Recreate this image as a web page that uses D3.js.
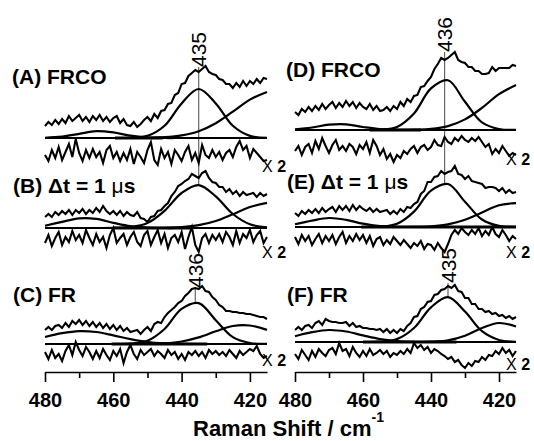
<!DOCTYPE html>
<html><head><meta charset="utf-8">
<script src="https://cdn.jsdelivr.net/npm/d3@7"></script>
<style>
html,body{margin:0;padding:0;background:#fff;}
svg{display:block;font-family:"Liberation Sans",Arial,Helvetica,sans-serif;}
</style></head><body>
<svg id="chart" width="534" height="441"></svg>
<script>
// ---------------- DATA ----------------
// x grids (Raman shift, cm-1)
const ramanShift = d3.range(480, 414, -1);                 // measured spectra & residuals, 480..415
const fitShift = [480,475,470,465,460,455,450,445,440,435,430,425,420,415]; // fitted components
const xTicksMajor = [480, 460, 440, 420];
const xTicksMinor = [470, 450, 430];
const xTitle = "Raman Shift / cm";
const xTitleSup = "-1";
const panelLabels = ["(A) FRCO", "(B) \u0394t = 1 \u03bcs", "(C) FR", "(D) FRCO", "(E) \u0394t = 1 \u03bcs", "(F) FR"];
const residualLabel = ["X", "2"];

// vertical stacking offsets (intensity units) of each spectrum and its residual
const stackOffsets    = [234, 144, 28, 242, 145, 30];
const residualOffsets = [217, 132, 17, 222, 132, 17];

// measured spectra (relative to fit baseline), 480 -> 415 cm-1
const dataA = [12,16,13,18,14,19,15,22,17,20, 23,17,21,16,22,18,23,17,21,16, 20,22,15,19,13,12,16,11,14,18, 21,17,24,20,27,28,34,35,43,45, 54,55,62,65,68,66,69,72,66,64, 63,59,58,54,54,50,55,51,57,52, 57,54,59,55,60,59];
const dataB = [11,14,11,16,13,17,14,18,13,18, 15,19,14,18,15,20,16,22,17,14, 17,13,17,12,16,13,12,16,10,9, 6,11,12,17,18,22,25,32,36,42, 44,47,49,54,52,50,55,57,50,46, 45,41,41,36,39,34,37,32,36,33, 34,35,31,35,32,34];
const dataC = [14,17,14,18,19,16,21,17,23,20, 24,19,23,18,22,17,21,16,20,15, 19,14,18,13,16,12,13,14,10,14, 17,13,20,22,21,27,31,34,37,41, 43,48,51,55,56,55,58,53,52,47, 44,39,37,33,33,32,32,31,31,30, 30,29,28,27,27,25];
const dataD = [18,15,21,18,23,19,24,20,26,21, 25,28,22,27,23,29,24,28,22,27, 23,21,26,20,24,19,20,23,19,24, 21,28,24,31,28,34,35,43,44,49, 53,61,66,72,70,72,75,78,70,68, 67,63,63,59,59,56,56,57,63,59, 62,62,62,62,65,64];
const dataE = [14,11,16,13,17,14,18,14,19,15, 18,20,15,21,17,21,16,22,17,21, 18,16,19,15,18,15,16,17,13,16, 13,18,15,20,19,23,25,33,36,45, 45,50,51,56,53,55,56,61,53,52, 48,51,46,45,44,43,39,40,40,39, 36,39,34,37,34,35];
const dataF = [12,15,12,16,17,14,19,21,17,23, 21,20,20,19,19,20,16,19,15,16, 14,14,13,13,12,13,10,13,9,12, 9,13,11,16,19,25,26,33,35,40, 41,47,48,52,53,56,54,57,51,50, 44,44,38,38,33,33,30,31,28,29, 26,27,24,26,23,25];

// fitted band components (main ~435, high-frequency side, low-frequency side), at fitShift
const fitMainA  = [0,0,0,0,0,0.2,2.1,12.2,34.6,49,34.6,12.2,2.1,0.2];
const fitRightA = [0,0,0,0,0,0,0.2,0.8,2.6,6.8,14.8,26.3,38.4,46.0];
const fitLeftA  = [0.2,1.3,4.2,6.9,5.6,2.3,0.5,0,0,0,0,0,0,0];
const fitMainB  = [0,0,0,0,0.1,0.9,5.0,17.2,35.0,42.9,31.6,14.0,3.7,0.6];
const fitRightB = [0,0,0,0,0,0,0,0.2,0.9,2.8,7.0,13.8,21.0,25.1];
const fitLeftB  = [2.3,6.1,9.6,9.1,5.2,1.8,0.4,0,0,0,0,0,0,0];
const fitMainC  = [0,0,0,0,0,0.3,3.2,15.0,35.1,40.9,23.8,6.9,1.0,0.1];
const fitRightC = [0,0,0,0,0,0,0.1,0.7,2.5,6.6,12.7,18.0,18.5,14.1];
const fitLeftC  = [7.0,10.8,12.9,12.0,8.6,4.8,2.0,0.7,0.2,0,0,0,0,0];
const fitMainD  = [0,0,0,0,0,0.3,3.1,16.5,41.6,49.7,28.2,7.6,1.0,0.1];
const fitRightD = [0,0,0,0,0,0,0,0.3,1.1,3.9,10.6,22.1,35.8,45.0];
const fitLeftD  = [0.6,2.5,5.3,5.7,3.0,0.8,0.2,0,0,0,0,0,0,0];
const fitMainE  = [0,0,0,0,0,0.3,3.2,15.4,36.4,43.0,25.3,7.5,1.1,0.1];
const fitRightE = [0,0,0,0,0,0,0,0.1,0.7,2.6,7.2,14.6,21.7,23.9];
const fitLeftE  = [2.7,6.4,9.0,7.2,3.3,0.9,0.1,0,0,0,0,0,0,0];
const fitMainF  = [0,0,0,0,0,0.3,2.9,14.0,34.7,44.9,30.5,10.8,2.0,0.2];
const fitRightF = [0,0,0,0,0,0,0,0,0.3,1.7,6.3,14.0,19.0,15.5];
const fitLeftF  = [5.8,9.8,12.0,10.5,6.6,3.0,1.0,0.2,0,0,0,0,0,0];

// flat baseline segments [from, to] cm-1
const flatSegments = [[459.5,445.5],[460,437],[460.5,432.5],[458,443],[460.5,415],[460,432.5]];

// residuals (x2), 480 -> 415 cm-1
const residA = [0,-6,5,-3,8,-5,3,11,-2,16, 2,-6,5,-3,6,-2,3,-8,5,9, -3,3,-6,2,-5,6,-9,3,-2,-8, 5,13,-5,-10,6,-3,3,-9,5,0, -6,3,9,-5,2,-8,10,0,-3,5, -2,3,-5,2,5,-2,8,14,5,9, -3,6,2,-2,-6,-5];
const residB = [-3,5,-6,2,8,-5,3,-2,9,0, 5,-3,10,2,-5,6,-2,3,-8,5, 12,-3,2,6,-5,3,8,-2,-6,5, 9,-5,3,10,-3,6,-8,2,5,-2, 8,-9,3,13,-5,-12,2,6,-3,5, 0,6,-2,8,3,-5,9,-3,6,2, 10,-2,5,9,-3,3];
const residC = [3,-4,5,-3,1,-6,4,10,0,13, 5,-1,8,3,-4,4,-3,6,0,-5, 4,-1,6,-8,3,10,1,-4,5,0, 3,6,-1,4,1,-3,5,0,3,-4, 1,-5,3,0,4,-1,3,-3,5,1, 4,0,3,-1,5,1,-3,4,0,3, 6,4,9,1,-3,-1];
const residD = [-1,4,-5,3,6,-3,9,1,12,4, -3,5,10,0,4,-1,6,3,-4,5, 1,8,-3,10,4,-5,1,-9,-4,-12, -5,-8,-1,-4,1,4,-3,3,5,0, 3,10,5,4,13,8,6,12,9,14, 10,8,12,9,13,8,3,6,-4,1, -3,4,-1,-6,-3,-5];
const residE = [3,-4,5,-1,4,-5,1,6,-3,4, -1,5,-4,3,8,-3,4,-1,6,0, 5,-3,4,-6,1,3,-5,0,-4,3, -1,-5,0,-4,-8,-3,-6,-1,-9,-4, -5,-10,-3,-8,-12,-4,5,10,6,12, 8,5,10,6,12,4,9,5,13,6, 3,10,5,-1,4,1];
const residF = [1,-4,5,0,-5,4,-2,6,2,-1, 5,7,1,12,4,6,-1,8,2,-2, 4,-1,6,0,2,5,1,4,-2,2, 0,4,1,6,2,12,7,10,5,8, 2,6,4,1,-1,-4,-2,-7,-5,-10, -13,-8,-11,-6,-7,-2,-5,0,-1,4, 1,7,2,5,-1,4];

// peak position markers
const markerValues = [435, 436, 436, 435];
const markerLabels = ["435", "436", "436", "435"];
const markerFrom   = [0, 2, 3, 5];   // spectrum the label sits above
const markerTo     = [1, 2, 4, 5];   // spectrum whose main band peak the line reaches

// ---------------- LAYOUT / STYLE ----------------
const font = '"Liberation Sans", Arial, Helvetica, sans-serif';
const axisY = 372;
const panelRanges = [[45, 267], [295, 516]];
const residLabelX = [262, 506];
const labelPos = [[12,84],[13,193],[13,302],[286,77],[287,189],[287,302]];
const residLabelY = [172, 258, 366, 165, 258, 370];
const markerGap = [5, 0, 8, 3];

const svg = d3.select("#chart");
const y = d3.scaleLinear().domain([0, 320]).range([axisY, 52]);
const xs = panelRanges.map(r => d3.scaleLinear().domain([480, 415]).range(r));

const groups = [
  {data:dataA, fits:[fitMainA,fitRightA,fitLeftA], resid:residA},
  {data:dataB, fits:[fitMainB,fitRightB,fitLeftB], resid:residB},
  {data:dataC, fits:[fitMainC,fitRightC,fitLeftC], resid:residC},
  {data:dataD, fits:[fitMainD,fitRightD,fitLeftD], resid:residD},
  {data:dataE, fits:[fitMainE,fitRightE,fitLeftE], resid:residE},
  {data:dataF, fits:[fitMainF,fitRightF,fitLeftF], resid:residF}
];

// markers (drawn underneath)
markerValues.forEach((v, k) => {
  const gi = markerFrom[k], ti = markerTo[k];
  const x = xs[gi < 3 ? 0 : 1];
  const idx = ramanShift.indexOf(v);
  const yTop = y(stackOffsets[gi] + groups[gi].data[idx]) - markerGap[k];
  const yBot = y(stackOffsets[ti] + d3.max(groups[ti].fits[0]));
  svg.append("line")
    .attr("x1", x(v)).attr("x2", x(v)).attr("y1", yTop).attr("y2", yBot)
    .attr("stroke", "#666").attr("stroke-width", 1.2);
  svg.append("text")
    .attr("transform", `translate(${x(v)},${yTop}) rotate(-90)`)
    .attr("dy", "0.36em")
    .attr("font-size", 21).attr("font-family", font)
    .attr("fill", "#000")
    .text(markerLabels[k]);
});

groups.forEach((g, gi) => {
  const p = gi < 3 ? 0 : 1;
  const x = xs[p];
  const base = stackOffsets[gi];
  const lineData = d3.line().x((d, i) => x(ramanShift[i])).y(d => y(base + d)).curve(d3.curveLinear);
  const lineFit = d3.line().x((d, i) => x(fitShift[i])).y(d => y(base + d)).curve(d3.curveCatmullRom.alpha(0.5));
  const lineRes = d3.line().x((d, i) => x(ramanShift[i])).y(d => y(residualOffsets[gi] + d));

  // flat baseline
  const seg = flatSegments[gi];
  svg.append("line")
    .attr("x1", x(seg[0])).attr("x2", x(seg[1]))
    .attr("y1", y(base)).attr("y2", y(base))
    .attr("stroke", "#000").attr("stroke-width", 3.2);

  g.fits.forEach(f => {
    svg.append("path").attr("d", lineFit(f))
      .attr("fill", "none").attr("stroke", "#000").attr("stroke-width", 2.2)
      .attr("stroke-linejoin", "round");
  });
  svg.append("path").attr("d", lineData(g.data))
    .attr("fill", "none").attr("stroke", "#000").attr("stroke-width", 2.1)
    .attr("stroke-linejoin", "miter");
  svg.append("path").attr("d", lineRes(g.resid))
    .attr("fill", "none").attr("stroke", "#000").attr("stroke-width", 2.1)
    .attr("stroke-linejoin", "miter");

  // panel label
  const lab = panelLabels[gi];
  const t = svg.append("text").attr("x", labelPos[gi][0]).attr("y", labelPos[gi][1])
    .attr("font-size", 21).attr("font-weight", "bold").attr("font-family", font).attr("fill", "#000");
  const parts = lab.split("\u03bc");
  parts.forEach((s, i) => {
    if (i > 0) t.append("tspan").attr("font-weight", "normal").text("\u03bc");
    t.append("tspan").text(s);
  });

  // "X 2" residual label
  const rl = svg.append("text").attr("x", residLabelX[p]).attr("y", residLabelY[gi])
    .attr("font-size", 16).attr("font-family", font).attr("fill", "#000");
  rl.append("tspan").text(residualLabel[0] + " ");
  rl.append("tspan").attr("font-weight", "bold").text(residualLabel[1]);
});

// axes
xs.forEach(x => {
  const major = d3.axisBottom(x).tickValues(xTicksMajor).tickSize(10).tickSizeOuter(0).tickFormat(d3.format("d"));
  const minor = d3.axisBottom(x).tickValues(xTicksMinor).tickSize(6).tickSizeOuter(0).tickFormat("");
  const ga = svg.append("g").attr("transform", `translate(0,${axisY})`).call(major);
  ga.attr("font-size", 20).attr("font-weight", "bold").attr("font-family", font);
  ga.select(".domain").attr("stroke", "#000").attr("stroke-width", 1.6);
  ga.selectAll(".tick line").attr("stroke", "#000").attr("stroke-width", 1.6);
  ga.selectAll(".tick text").attr("y", 35).attr("dy", null).attr("fill", "#000");
  const gm = svg.append("g").attr("transform", `translate(0,${axisY})`).call(minor);
  gm.select(".domain").remove();
  gm.selectAll(".tick line").attr("stroke", "#000").attr("stroke-width", 1.6);
});

// axis title
const tt = svg.append("text").attr("x", 193).attr("y", 436)
  .attr("font-size", 22).attr("font-weight", "bold").attr("font-family", font).attr("fill", "#000");
tt.append("tspan").text(xTitle);
tt.append("tspan").attr("font-size", 14).attr("dy", -14).text(xTitleSup);
</script>
</body></html>
